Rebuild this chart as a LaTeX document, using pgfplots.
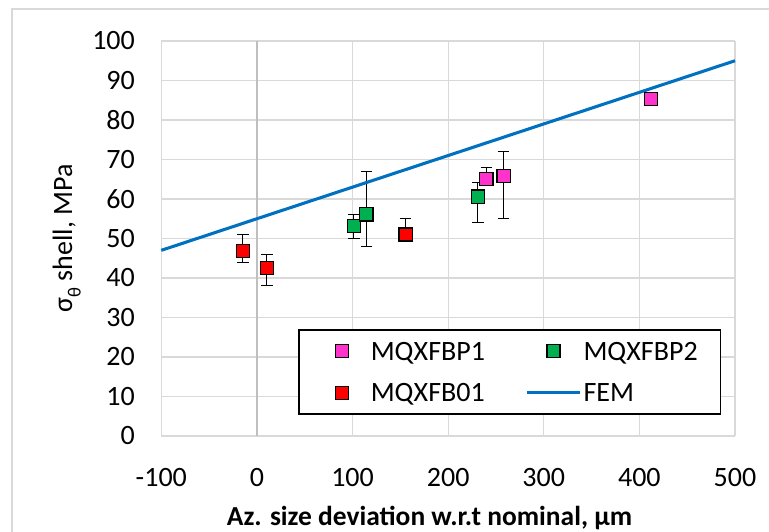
\documentclass[border=0pt]{standalone}
\usepackage{fontspec}
\setmainfont{Carlito}
\usepackage{pgfplots}
\usepackage{pgfplotstable}
\pgfplotsset{compat=1.18}

\definecolor{gridgray}{HTML}{D9D9D9}
\definecolor{zerogray}{HTML}{BFBFBF}
\definecolor{framegray}{HTML}{D9D9D9}
\definecolor{pinkP}{HTML}{FF33CC}
\definecolor{greenP}{HTML}{00B050}
\definecolor{redB}{HTML}{FF0000}
\definecolor{femblue}{HTML}{0070C0}

% x, y, upper error, lower error
\pgfplotstableread{
x     y     ep    em
240   65.0  3.0   1.5
258   65.8  6.3   10.8
412   85.3  0     0
}\dataPone
\pgfplotstableread{
x     y     ep    em
101.2 53.2  2.9   3.2
114.5 56.1  10.9  8.1
231   60.6  3.5   6.5
}\dataPtwo
\pgfplotstableread{
x     y     ep    em
-14.7 46.8  4.3   2.8
10.3  42.5  3.4   4.5
155.5 51.0  4.0   1.5
}\dataBone
\pgfplotstableread{
x     y
-100  47
500   95
}\dataFEM

\newcommand{\chartfont}{\fontsize{21}{25}\selectfont}

\begin{document}
\begin{tikzpicture}
\useasboundingbox (-121pt,-72pt) rectangle (455.8pt,327pt);
\draw[framegray, line width=0.9pt] (-112pt,-80pt) -- (-112pt,320.25pt) -- (470pt,320.25pt);
\begin{axis}[
  scale only axis,
  width=430.3pt, height=296.25pt,
  xmin=-100, xmax=500, ymin=0, ymax=100,
  xtick={-100,0,...,500}, ytick={0,10,...,100},
  axis line style={draw=none},
  tick style={draw=none},
  xmajorgrids, ymajorgrids,
  major grid style={gridgray, line width=0.9pt},
  extra x ticks={0}, extra x tick labels={},
  extra x tick style={grid=major, major grid style={zerogray, line width=1.1pt}},
  /pgf/number format/assume math mode=true,
  tick label style={font=\chartfont},
  yticklabel style={xshift=-16.3pt},
  xticklabel style={yshift=-20.5pt},
  every axis y label/.style={at={(axis description cs:-0.165,0.5)}, rotate=90, anchor=center},
  every axis x label/.style={at={(axis description cs:0.4675,-0.226)}, anchor=base},
  ylabel={\chartfont σ\raisebox{-0.3em}{\fontsize{14}{14}\selectfont θ} shell, MPa},
  xlabel={\fontsize{20.6}{25}\selectfont\bfseries Az. size deviation w.r.t nominal, µm},
  clip=false,
  legend columns=2,
  legend cell align=left,
  legend image code/.code={%
    \path[draw=none, fill=none] (0pt,-5pt) rectangle (39.75pt,5pt);
    \draw[mark repeat=2,mark phase=2,#1] plot coordinates {(0pt,0pt) (19.9pt,0pt) (39.75pt,0pt)};},
  legend style={
    at={(rel axis cs:0.2384,0.0532)}, anchor=south west,
    draw=black, line width=1.1pt, fill=white,
    inner xsep=12.75pt, inner ysep=9.3pt,
    row sep=18pt,
    nodes={inner sep=0pt, text height=13.3pt, text depth=0pt, text width=90pt, font=\chartfont},
    /tikz/every odd column/.append style={column sep=1.5pt},
    /tikz/every even column/.append style={column sep=26pt},
  },
  error bars/y dir=both,
  error bars/y explicit,
  error bars/error bar style={black, line width=0.8pt},
  error bars/error mark options={rotate=90, mark size=4.4pt, black, line width=0.8pt},
]
\addplot[only marks, mark=square*, mark size=4.9pt,
  mark options={fill=pinkP, draw=black, line width=0.9pt}]
  table[x=x, y=y, y error plus=ep, y error minus=em] {\dataPone};
\addlegendentry{MQXFBP1}
\addplot[only marks, mark=square*, mark size=4.9pt,
  mark options={fill=greenP, draw=black, line width=0.9pt}]
  table[x=x, y=y, y error plus=ep, y error minus=em] {\dataPtwo};
\addlegendentry{MQXFBP2}
\addplot[only marks, mark=square*, mark size=4.9pt,
  mark options={fill=redB, draw=black, line width=0.9pt}]
  table[x=x, y=y, y error plus=ep, y error minus=em] {\dataBone};
\addlegendentry{MQXFB01}
\addplot[femblue, line width=2.3pt, no marks, error bars/y dir=none]
  table[x=x, y=y] {\dataFEM};
\addlegendentry{FEM}
\end{axis}
\end{tikzpicture}
\end{document}
